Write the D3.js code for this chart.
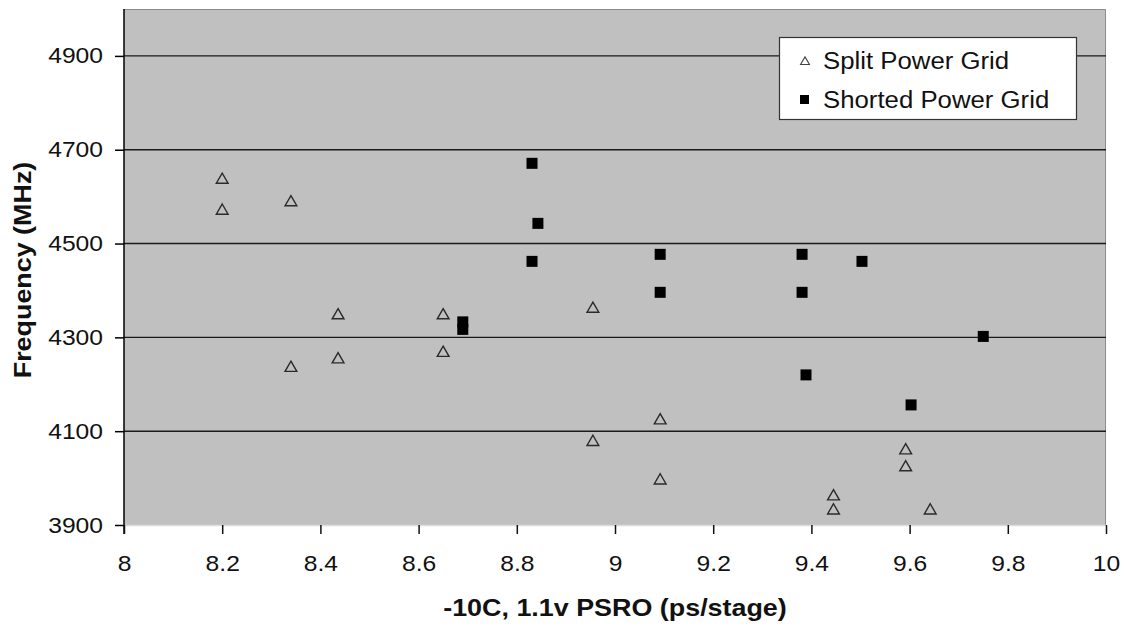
<!DOCTYPE html>
<html>
<head>
<meta charset="utf-8">
<script src="https://cdn.jsdelivr.net/npm/d3@7/dist/d3.min.js"></script>
<style>
  html, body { margin: 0; padding: 0; background: #fff; }
  svg { display: block; font-family: "Liberation Sans", Arial, sans-serif; }
</style>
</head>
<body>
<svg id="chart" width="1124" height="626"></svg>
<script>
// ---- data ----
const splitX = [8.2, 8.2, 8.34, 8.436, 8.34, 8.436, 8.65, 8.65, 8.955, 9.092, 8.955, 9.092, 9.592, 9.592, 9.445, 9.445, 9.642];
const splitY = [4639, 4573, 4591, 4350, 4238, 4256, 4350, 4270, 4364, 4126, 4080, 3998, 4062, 4026, 3964, 3934, 3934];
const shortX = [8.69, 8.69, 8.831, 8.843, 8.831, 9.092, 9.092, 9.381, 9.381, 9.503, 9.389, 9.603, 9.75];
const shortY = [4333, 4317, 4671, 4543, 4462, 4477, 4396, 4477, 4396, 4462, 4220, 4156, 4302];
const xTicks = [8, 8.2, 8.4, 8.6, 8.8, 9, 9.2, 9.4, 9.6, 9.8, 10];
const yTicks = [3900, 4100, 4300, 4500, 4700, 4900];
const seriesNames = ["Split Power Grid", "Shorted Power Grid"];
const xTitle = "-10C, 1.1v PSRO (ps/stage)";
const yTitle = "Frequency (MHz)";

// ---- layout ----
const L = 124, R = 1106, T = 9, B = 525;
const svg = d3.select("#chart");
const x = d3.scaleLinear().domain([8, 10]).range([L, R]);
const y = d3.scaleLinear().domain([3900, 5000]).range([B, T]);

// plot background
svg.append("rect").attr("x", L).attr("y", T).attr("width", R - L).attr("height", B - T)
  .attr("fill", "#c0c0c0");
// top / right border
svg.append("path").attr("d", `M${L},${T + 0.5}H${R - 0.5}V${B}`).attr("fill", "none")
  .attr("stroke", "#8c8c8c").attr("stroke-width", 1);
// bottom light edge
svg.append("line").attr("x1", L).attr("x2", R).attr("y1", B + 0.5).attr("y2", B + 0.5)
  .attr("stroke", "#dcdcdc").attr("stroke-width", 1.5);

// gridlines
svg.append("g").selectAll("line").data(yTicks.filter(d => d > 3900)).join("line")
  .attr("x1", L).attr("x2", R).attr("y1", d => y(d)).attr("y2", d => y(d))
  .attr("stroke", "#1a1a1a").attr("stroke-width", 1.4);

// y axis
const yAxis = svg.append("g").attr("transform", `translate(${L},0)`)
  .call(d3.axisLeft(y).tickValues(yTicks).tickSize(9).tickPadding(12).tickFormat(d3.format("d")));
yAxis.select(".domain").attr("stroke", "#000").attr("stroke-width", 1.5).attr("d", `M0,${T}V${B + 9}`);
yAxis.selectAll(".tick line").attr("stroke", "#000").attr("stroke-width", 1.5);
yAxis.selectAll(".tick text").attr("font-size", 22).attr("fill", "#111")
  .attr("font-family", "Liberation Sans, Arial, sans-serif");

// x axis
const xAxis = svg.append("g").attr("transform", `translate(0,${B})`)
  .call(d3.axisBottom(x).tickValues(xTicks).tickSize(9).tickPadding(21).tickFormat(d => String(d)));
xAxis.select(".domain").remove();
xAxis.selectAll(".tick line").attr("stroke", "#111").attr("stroke-width", 1.5);
xAxis.selectAll(".tick text").attr("font-size", 22).attr("fill", "#111")
  .attr("font-family", "Liberation Sans, Arial, sans-serif");

// axis titles
svg.append("text").attr("class", "title").attr("x", (L + R) / 2).attr("y", 616)
  .attr("text-anchor", "middle").attr("font-size", 24).attr("font-weight", "bold").attr("fill", "#111")
  .text(xTitle);
svg.append("text").attr("class", "title").attr("transform", `translate(31,270) rotate(-90)`)
  .attr("text-anchor", "middle").attr("font-size", 24).attr("font-weight", "bold").attr("fill", "#111")
  .text(yTitle);

// markers
const tri = d3.symbol().type(d3.symbolTriangle).size(60);
const splitData = splitX.map((v, i) => [v, splitY[i]]);
const shortData = shortX.map((v, i) => [v, shortY[i]]);

svg.append("g").selectAll("path").data(splitData).join("path")
  .attr("d", tri)
  .attr("transform", d => `translate(${x(d[0])},${y(d[1]) + 1.5})`)
  .attr("fill", "none").attr("stroke", "#2a2a2a").attr("stroke-width", 1.4);

svg.append("g").selectAll("rect").data(shortData).join("rect")
  .attr("x", d => x(d[0]) - 5.5).attr("y", d => y(d[1]) - 5.5)
  .attr("width", 11).attr("height", 11).attr("fill", "#000");

// legend
const lg = svg.append("g");
lg.append("rect").attr("x", 779.5).attr("y", 37.5).attr("width", 297).attr("height", 82)
  .attr("fill", "#fff").attr("stroke", "#333").attr("stroke-width", 1.2);
lg.append("path").attr("d", d3.symbol().type(d3.symbolTriangle).size(34))
  .attr("transform", "translate(805,62)").attr("fill", "none").attr("stroke", "#444").attr("stroke-width", 1.1);
lg.append("rect").attr("x", 800).attr("y", 95).attr("width", 9).attr("height", 9).attr("fill", "#000");
lg.selectAll("text").data(seriesNames).join("text")
  .attr("x", 823).attr("y", (d, i) => 69 + i * 39)
  .attr("font-size", 23).attr("fill", "#111").text(d => d);

// widen glyphs to match reference font proportions
svg.selectAll("text").each(function () {
  const len = this.getComputedTextLength();
  d3.select(this).attr("textLength", len * 1.12).attr("lengthAdjust", "spacingAndGlyphs");
});
</script>
</body>
</html>
